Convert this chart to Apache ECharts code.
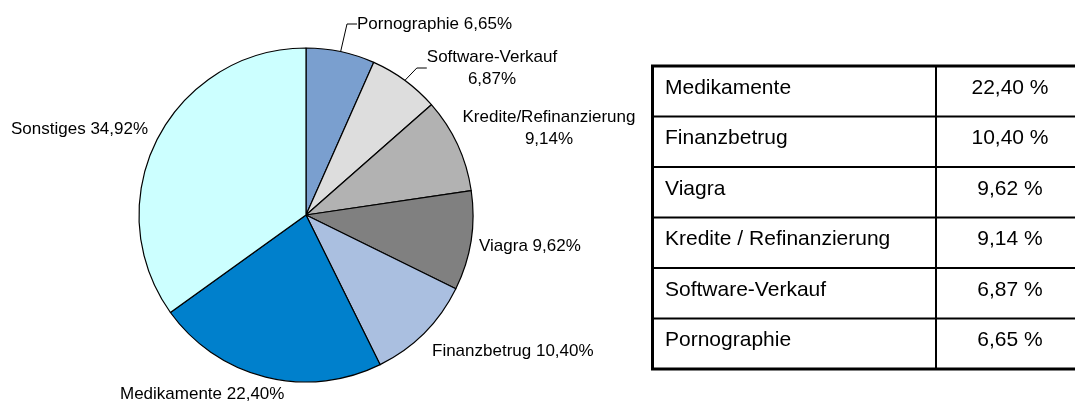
<!DOCTYPE html>
<html>
<head>
<meta charset="utf-8">
<script src="https://cdn.jsdelivr.net/npm/echarts@6/dist/echarts.min.js"></script>
<style>
  html, body { margin: 0; padding: 0; background: #fff; }
  #chart { width: 1075px; height: 403px; }
</style>
</head>
<body>
<div id="chart"></div>
<script>
// Anteile am Spam-Aufkommen (Kreisdiagramm, im Uhrzeigersinn ab 12 Uhr)
const sliceNames = ['Pornographie', 'Software-Verkauf', 'Kredite/Refinanzierung', 'Viagra', 'Finanzbetrug', 'Medikamente', 'Sonstiges'];
const sliceValues = [6.65, 6.87, 9.14, 9.62, 10.40, 22.40, 34.92];
const sliceColors = ['#7a9fcf', '#dddddd', '#b2b2b2', '#808080', '#aabfe0', '#0080cc', '#ccffff'];

// Tabelle rechts
const tableNames = ['Medikamente', 'Finanzbetrug', 'Viagra', 'Kredite / Refinanzierung', 'Software-Verkauf', 'Pornographie'];
const tableValues = [22.40, 10.40, 9.62, 9.14, 6.87, 6.65];

// Beschriftungen, die umbrechen / eine Führungslinie haben
const twoLineLabels = ['Software-Verkauf', 'Kredite/Refinanzierung'];
const guidedLabels = ['Pornographie', 'Software-Verkauf'];

// Lage der Beschriftungen (nur Layout)
const labelSpots = [
  {x: 357, y: 24, align: 'left'},
  {x: 492, y: 68, align: 'center'},
  {x: 549, y: 128, align: 'center'},
  {x: 479, y: 246, align: 'left'},
  {x: 432, y: 351, align: 'left'},
  {x: 120, y: 394, align: 'left'},
  {x: 11, y: 129, align: 'left'}
];

const fmt = v => v.toFixed(2).replace('.', ',');

const pieData = sliceNames.map((n, i) => ({
  name: n,
  value: sliceValues[i],
  itemStyle: {color: sliceColors[i]},
  labelLine: {show: guidedLabels.indexOf(n) >= 0}
}));

// Tabelle als Grafik-Elemente
const tLeft = 652.5, tTop = 66, rowH = 50.5, colX = 936, valCenter = 1010;
const tableGraphics = [];
tableGraphics.push({
  type: 'rect',
  shape: {x: tLeft, y: tTop, width: 500, height: rowH * tableNames.length},
  style: {fill: '#fff', stroke: '#000', lineWidth: 3},
  z: 1
});
for (let i = 1; i < tableNames.length; i++) {
  tableGraphics.push({
    type: 'line',
    shape: {x1: tLeft, y1: tTop + rowH * i, x2: 1080, y2: tTop + rowH * i},
    style: {stroke: '#000', lineWidth: 2},
    z: 2
  });
}
tableGraphics.push({
  type: 'line',
  shape: {x1: colX, y1: tTop, x2: colX, y2: tTop + rowH * tableNames.length},
  style: {stroke: '#000', lineWidth: 2},
  z: 2
});
tableNames.forEach((n, i) => {
  const cy = tTop + rowH * i + 22;
  tableGraphics.push({
    type: 'text',
    x: 665, y: cy,
    style: {text: n, fontFamily: 'Liberation Sans, Arial, sans-serif', fontSize: 21, fill: '#000',
      align: 'left', verticalAlign: 'middle'},
    z: 3
  });
  tableGraphics.push({
    type: 'text',
    x: valCenter, y: cy,
    style: {text: fmt(tableValues[i]) + ' %', fontFamily: 'Liberation Sans, Arial, sans-serif', fontSize: 21, fill: '#000',
      align: 'center', verticalAlign: 'middle'},
    z: 3
  });
});

const myChart = echarts.init(document.getElementById('chart'));
myChart.setOption({
  animation: false,
  backgroundColor: '#fff',
  graphic: tableGraphics,
  series: [{
    type: 'pie',
    center: [306, 215],
    radius: 167,
    startAngle: 90,
    clockwise: true,
    avoidLabelOverlap: false,
    itemStyle: {borderColor: '#000', borderWidth: 1.2},
    label: {
      show: true,
      position: 'outside',
      fontFamily: 'Liberation Sans, Arial, sans-serif',
      fontSize: 17,
      lineHeight: 22,
      color: '#000',
      formatter: p => twoLineLabels.indexOf(p.name) >= 0
        ? p.name + '\n' + fmt(p.value) + '%'
        : p.name + ' ' + fmt(p.value) + '%'
    },
    labelLine: {show: false, length: 10, length2: 10, lineStyle: {color: '#000', width: 1}},
    labelLayout: function (params) {
      const s = labelSpots[params.dataIndex];
      return {x: s.x, y: s.y, align: s.align, verticalAlign: 'middle'};
    },
    emphasis: {disabled: true},
    data: pieData
  }]
});
</script>
</body>
</html>
